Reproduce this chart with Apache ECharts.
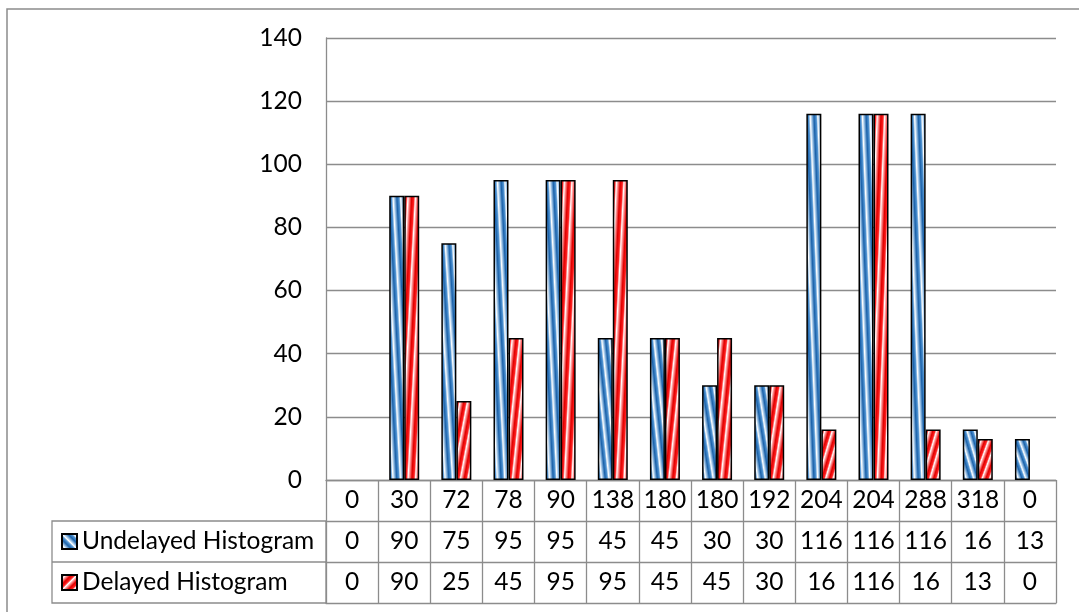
<!DOCTYPE html>
<html>
<head>
<meta charset="utf-8">
<script src="https://cdn.jsdelivr.net/npm/echarts@6/dist/echarts.min.js"></script>
<style>
  html, body { margin: 0; padding: 0; background: #fff; }
  #chart { width: 1079px; height: 612px; }
</style>
</head>
<body>
<div id="chart"></div>
<script>
// ---- data ----
const categories = ['0', '30', '72', '78', '90', '138', '180', '180', '192', '204', '204', '288', '318', '0'];
const undelayed = [0, 90, 75, 95, 95, 45, 45, 30, 30, 116, 116, 116, 16, 13];
const delayed   = [0, 90, 25, 45, 95, 95, 45, 45, 30, 16, 116, 16, 13, 0];
const seriesNames = ['Undelayed Histogram', 'Delayed Histogram'];
const yMin = 0, yMax = 140, yStep = 20;

// ---- layout & style ----
const W = 1079, H = 612;
const GRID = { left: 326, right: 23, top: 38, bottom: 132 };
const PLOT_H = H - GRID.top - GRID.bottom;
const ROW = 41;                 // data table row height
const BAR_W = 15;
const FONT = 'Lato';
const FS = 24.5;
const LINE = '#8c8c8c';
const STRIPES = 2;              // stripe periods across a bar's width

// stripe colour profiles (one period each)
const blueProfile = [[0, '#1b62aa'], [0.3, '#4f93d2'], [0.5, '#ffffff'], [0.68, '#a9cbea'], [1, '#1b62aa']];
const redProfile  = [[0, '#e00000'], [0.3, '#ff2020'], [0.5, '#ffffff'], [0.68, '#ff9a9a'], [1, '#e00000']];

function stripeStops(profile, periods) {
  const stops = [];
  for (let i = 0; i < periods; i++) {
    profile.forEach(([o, c]) => stops.push({ offset: (i + o) / periods, color: c }));
  }
  return stops;
}

// diagonal stripes stretched with the bar: '\' for undelayed, '/' for delayed
function barItem(v, back, profile) {
  if (!v) return { value: v, itemStyle: { borderWidth: 0 } };
  const w = BAR_W, h = v / (yMax - yMin) * PLOT_H;
  const vx = 1 / (2 * w), vy = (back ? -1 : 1) / (2 * h);
  const n2 = vx * vx + vy * vy;
  const dx = vx / n2, dy = vy / n2;
  const y0 = back ? 1 : 0;
  return {
    value: v,
    itemStyle: {
      color: new echarts.graphic.LinearGradient(0, y0, dx / w, y0 + dy / h, stripeStops(profile, 2 * STRIPES))
    }
  };
}

const labelStyle = { fontFamily: FONT, fontSize: FS, color: '#000' };

function tableAxis(data, offset, withLabels) {
  return {
    type: 'category',
    position: 'bottom',
    offset: offset,
    data: data,
    axisLine: { show: true, lineStyle: { color: LINE, width: 1.3 } },
    axisTick: { show: false },
    splitLine: { show: false },
    axisLabel: Object.assign({ show: withLabels, interval: 0, margin: ROW / 2, verticalAlign: 'middle' }, labelStyle)
  };
}

const catAxis = tableAxis(categories, 0, true);
catAxis.axisTick = { show: true, interval: 0, length: ROW * 3, lineStyle: { color: LINE, width: 1.3 } };

const chart = echarts.init(document.getElementById('chart'), null, { renderer: 'canvas' });

chart.setOption({
  animation: false,
  backgroundColor: '#fff',
  grid: GRID,
  xAxis: [
    catAxis,
    tableAxis(undelayed.map(String), ROW, true),
    tableAxis(delayed.map(String), ROW * 2, true),
    tableAxis(categories, ROW * 3, false)
  ],
  yAxis: {
    type: 'value',
    min: yMin, max: yMax, interval: yStep,
    axisLine: { show: true, lineStyle: { color: LINE, width: 1.3 } },
    axisTick: { show: false },
    splitLine: { show: true, lineStyle: { color: LINE, width: 1.3 } },
    axisLabel: Object.assign({ margin: 24 }, labelStyle)
  },
  legend: [0, 1].map(i => ({
    data: [{ name: seriesNames[i], icon: 'rect' }],
    left: 61,
    top: H - GRID.bottom + ROW * (i + 1) + ROW / 2 - 14,
    padding: 0,
    itemWidth: 15,
    itemHeight: 15,
    itemGap: 6,
    selectedMode: false,
    textStyle: Object.assign({ lineHeight: 28 }, labelStyle)
  })),
  graphic: [
    { type: 'rect', z: -1, shape: { x: 7, y: 9, width: 1200, height: 800 },
      style: { fill: 'none', stroke: LINE, lineWidth: 1.5 } },
    { type: 'rect', shape: { x: 52, y: H - GRID.bottom + ROW, width: GRID.left - 52, height: ROW * 2 },
      style: { fill: 'none', stroke: LINE, lineWidth: 1.3 } },
    { type: 'line', shape: { x1: 52, y1: H - GRID.bottom + ROW * 2, x2: GRID.left, y2: H - GRID.bottom + ROW * 2 },
      style: { stroke: LINE, lineWidth: 1.3 } }
  ],
  series: [
    {
      name: seriesNames[0], type: 'bar', barWidth: BAR_W, barGap: '0%',
      itemStyle: {
        color: new echarts.graphic.LinearGradient(0, 1, 1, 0, stripeStops(blueProfile, 3)),
        borderColor: '#000', borderWidth: 1.5
      },
      data: undelayed.map(v => barItem(v, true, blueProfile))
    },
    {
      name: seriesNames[1], type: 'bar', barWidth: BAR_W, barGap: '0%',
      itemStyle: {
        color: new echarts.graphic.LinearGradient(0, 0, 1, 1, stripeStops(redProfile, 3)),
        borderColor: '#000', borderWidth: 1.5
      },
      data: delayed.map(v => barItem(v, false, redProfile))
    }
  ]
});
</script>
</body>
</html>
